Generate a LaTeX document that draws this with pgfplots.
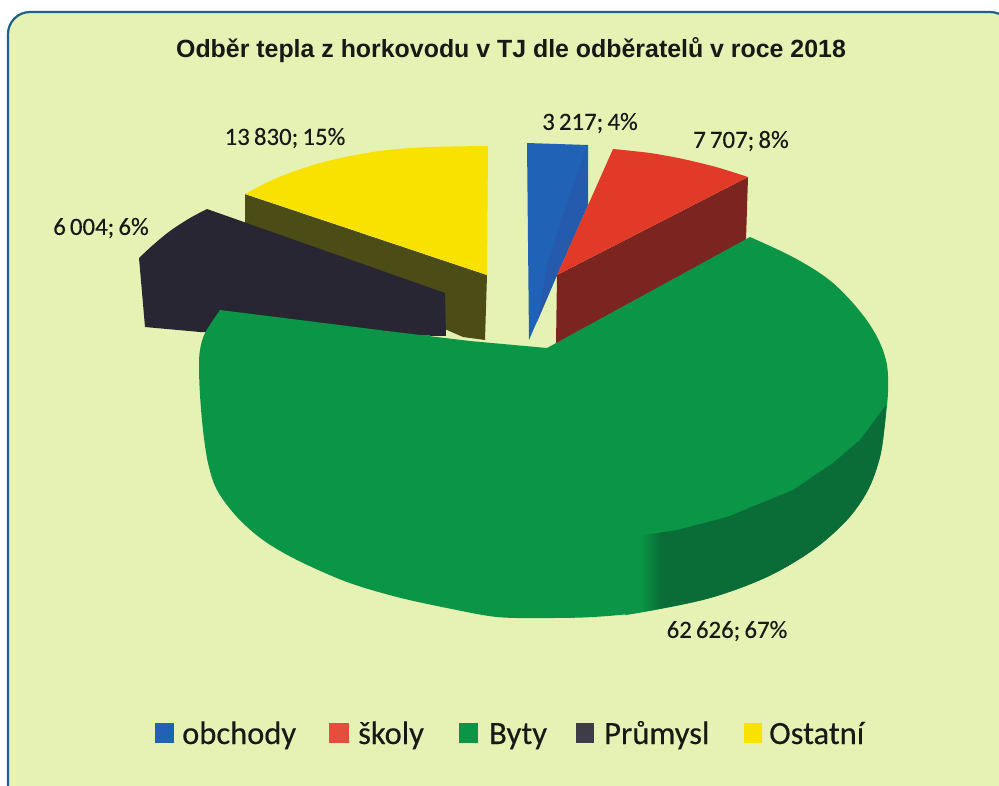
\documentclass[border=0pt]{standalone}
\usepackage{fontspec}
\usepackage{pgfplots}
\pgfplotsset{compat=1.18}
\setmainfont{Carlito}
\newfontfamily\titlefont{Liberation Sans}
\newfontfamily\labelfont[FakeBold=0.3]{Carlito}
\definecolor{bgc}{RGB}{230,242,180}
\definecolor{borderc}{RGB}{28,96,140}
\definecolor{bluet}{RGB}{32,98,182}
\definecolor{blued}{RGB}{38,90,172}
\definecolor{redt}{RGB}{226,58,40}
\definecolor{redd}{RGB}{124,36,32}
\definecolor{greent}{RGB}{10,150,70}
\definecolor{greend}{RGB}{10,108,54}
\definecolor{blackt}{RGB}{40,38,50}
\definecolor{yellowt}{RGB}{250,226,0}
\definecolor{olive2}{RGB}{76,76,22}
\definecolor{txt}{RGB}{24,24,20}
\pgfdeclarehorizontalshading{greenside}{100bp}{color(0bp)=(greent); color(28bp)=(greent); color(32bp)=(greend); color(100bp)=(greend)}
\begin{document}
\begin{tikzpicture}
\useasboundingbox (0,0) rectangle (999pt,785pt);
\begin{axis}[
  anchor=south west, at={(0,0)},
  scale only axis, width=999pt, height=785pt,
  xmin=0, xmax=999, ymin=0, ymax=785, y dir=reverse,
  hide axis, clip=true,
  every axis plot/.append style={draw=none, line width=0pt},
]
% panel
\draw[draw=borderc, line width=2.2pt, fill=bgc, rounded corners=22pt]
  (axis cs:8,815) -- (axis cs:8,12) -- (axis cs:1012,12) -- (axis cs:1012,815) -- cycle;

% Ostatni 13 830; 15 % -- side
\addplot[fill=olive2] coordinates {(245,194)(487,275)(485,340)(463,337)(447,330)(245,250)} -- cycle;
% Ostatni -- top
\addplot[fill=yellowt, smooth, tension=0.5] coordinates {(488,146)(430,147)(387,150)(350,156)(320,163)(295,171)(270,181)(245,194)} -- (axis cs:487,275) -- cycle;
% Prumysl 6 004; 6 %
\addplot[fill=blackt, smooth, tension=0.5] coordinates {(207,209)(190,218)(170,231)(153,245)(139,258)} -- (axis cs:145,327) -- (axis cs:200,332) -- (axis cs:446,336) -- (axis cs:445,293) -- cycle;
% obchody 3 217; 4 %
\addplot[fill=bluet] coordinates {(527,143)(588,145)(588,205)(557,275)(529,340)} -- cycle;
\addplot[fill=blued] coordinates {(586,150)(588,205)(557,275)(537,322)(548,262)(566,205)} -- cycle;
% skoly 7 707; 8 % -- side
\addplot[fill=redd] coordinates {(557,275)(748,177)(746,240)(556,345)} -- cycle;
% skoly -- top
\addplot[fill=redt, smooth, tension=0.5] coordinates {(613,149)(650,153)(683,159)(716,167)(748,177)} -- (axis cs:557,275) -- cycle;
% Byty 62 626; 67 % -- silhouette
\addplot[fill=greent, smooth, tension=0.55] coordinates {
  (750,237)(785,253)(812,268)(833,283)(852,302)(868,322)(880,343)(887,365)(888,392)
  (885,423)(880,457)(868,490)(847,520)(813,550)(767,577)(710,598)(643,612)(593,617)
  (547,618)(497,617)(447,608)(397,597)(347,582)(297,560)(263,540)(237,517)(217,490)
  (208,463)(203,430)(200,395)(199,367)(200,350)(205,333)(220,310)
} -- (axis cs:300,320) -- (axis cs:387,331) -- (axis cs:470,341) -- (axis cs:547,348) -- cycle;
% Byty -- dark rim
\addplot[shading=greenside, shading angle=0, smooth, tension=0.55] coordinates {
  (886,405)(885,423)(880,457)(868,490)(847,520)(813,550)(767,577)(710,598)(643,612)(625,615)
} -- (axis cs:625,538) -- (axis cs:677,530) -- (axis cs:727,517) -- (axis cs:793,490) -- (axis cs:833,463) -- (axis cs:860,440) -- cycle;

% legend keys
\addplot[fill=bluet]  coordinates {(155,723)(174,723)(174,743)(155,743)} -- cycle;
\addplot[fill=redt!90!white]   coordinates {(329,723)(349,723)(349,743)(329,743)} -- cycle;
\addplot[fill=greent] coordinates {(459,723)(478,723)(478,743)(459,743)} -- cycle;
\addplot[fill=blackt!90!white] coordinates {(576,723)(594,723)(594,743)(576,743)} -- cycle;
\addplot[fill=yellowt] coordinates {(744,723)(762,723)(762,743)(744,743)} -- cycle;

% title
\node[text=txt, font=\titlefont\bfseries\fontsize{24.9}{27}\selectfont] at (axis cs:511,50)
  {Odběr tepla z horkovodu v TJ dle odběratelů v roce 2018};
% data labels
\begin{scope}[every node/.style={text=txt, inner sep=0pt, font=\labelfont\fontsize{24.8}{27}\selectfont}]
\node at (axis cs:285,138) {13\,830;\,15\%};
\node at (axis cs:590,123) {3\,217;\,4\%};
\node at (axis cs:741,141) {7\,707;\,8\%};
\node at (axis cs:101,228) {6\,004;\,6\%};
\node at (axis cs:727,631) {62\,626;\,67\%};
\end{scope}
% legend text
\begin{scope}[every node/.style={text=txt, inner sep=0pt, anchor=base west, font=\labelfont\fontsize{32.5}{35}\selectfont}]
\node at (axis cs:182,744) {obchody};
\node at (axis cs:358,744) {školy};
\node at (axis cs:489,744) {Byty};
\node at (axis cs:604,744) {Průmysl};
\node at (axis cs:769,744) {Ostatní};
\end{scope}
\end{axis}
\end{tikzpicture}
\end{document}
